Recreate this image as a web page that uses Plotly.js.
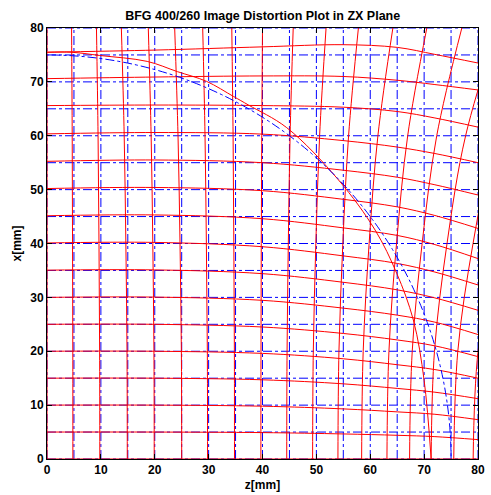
<!DOCTYPE html>
<html><head><meta charset="utf-8">
<script src="https://cdn.plot.ly/plotly-3.0.1.min.js"></script>
<style>html,body{margin:0;padding:0;background:#fff}</style>
</head><body><div id="chart" style="width:491px;height:495px"></div>
<script>
// ideal (undistorted) grid positions, mm
const idealGrid = [0,5,10,15,20,25,30,35,40,45,50,55,60,65,70,75,80];
const idealRadius = 75;

// distorted lines of constant ideal z: z' read at these x' heights
const vertSampleX = [0, 20, 40, 60, 80];
const redVertZ = [
  [0, 0, 0, 0, 0],
  [4.8, 4.79, 4.74, 4.68, 4.56],
  [9.8, 9.77, 9.65, 9.48, 9.18],
  [14.9, 14.85, 14.64, 14.33, 13.8],
  [19.9, 19.85, 19.64, 19.33, 18.8],
  [25.0, 24.94, 24.69, 24.32, 23.7],
  [29.8, 29.76, 29.58, 29.33, 28.9],
  [34.8, 34.78, 34.68, 34.54, 34.3],
  [39.7, 39.72, 39.77, 39.86, 40.0],
  [44.5, 44.56, 44.79, 45.12, 45.7],
  [49.3, 49.43, 49.9, 50.6, 51.8],
  [54.0, 54.19, 54.91, 55.98, 57.8],
  [58.4, 58.69, 59.79, 61.42, 64.2],
  [63.1, 63.47, 64.88, 66.95, 70.5],
  [67.3, 67.79, 69.63, 72.34, 77.0],
  [71.3, 71.92, 74.25, 77.7, 83.6],
  [75.5, 76.25, 79.08, 83.25, 90.4],
  [79.1, 80.01, 83.47, 88.56, 97.3]
];

// distorted lines of constant ideal x: x' read at these z' positions
const horizSampleZ = [0, 20, 40, 55, 65, 72, 80];
const redHorizX = [
  [0, 0, 0, 0, 0, 0, 0],
  [5.0, 5.0, 4.9, 4.65, 4.4, 4.15, 3.6],
  [10.0, 10.0, 9.8, 9.3, 8.75, 8.3, 7.3],
  [15.0, 15.0, 14.7, 13.95, 13.1, 12.4, 11.2],
  [20.0, 20.0, 19.6, 18.6, 17.5, 16.6, 15.0],
  [25.0, 25.0, 24.5, 23.3, 22.1, 21.0, 19.0],
  [30.0, 30.05, 29.45, 28.0, 26.7, 25.4, 23.1],
  [35.05, 35.1, 34.4, 32.8, 31.4, 29.9, 27.6],
  [40.1, 40.2, 39.4, 37.7, 36.3, 34.7, 32.3],
  [45.15, 45.3, 44.6, 42.9, 41.5, 39.8, 37.2],
  [50.2, 50.4, 49.8, 48.2, 46.8, 45.2, 42.8],
  [55.25, 55.5, 55.0, 53.6, 52.3, 50.9, 49.0],
  [60.35, 60.6, 60.3, 59.1, 57.9, 56.7, 55.0],
  [65.6, 65.7, 65.6, 65.3, 64.5, 63.3, 61.6],
  [70.6, 70.9, 71.1, 71.0, 70.3, 69.5, 68.5],
  [75.5, 75.9, 76.5, 76.9, 76.4, 75.1, 73.5]
];

// distorted image of the r = 75 circle
const redCircleZ = [0, 4.5, 9.8, 18.6, 24.2, 29.6, 34.6, 37.4, 44.5, 54.1, 60.9, 64.9, 68.0, 70.0, 71.3];
const redCircleX = [75.5, 75.5, 74.9, 73.8, 71.9, 70.1, 67.3, 65.7, 61.5, 51.8, 42.5, 34.5, 25.8, 14.6, 0];

const axMin = 0, axMax = 80;
const BLUE = 'rgb(0,0,255)', RED = 'rgb(255,0,0)';
const traces = [];

// ideal blue dash-dot grid
const bvx = [], bvy = [], bhx = [], bhy = [];
idealGrid.forEach(g => {
  bvx.push(g, g, null); bvy.push(axMin, axMax, null);
  bhx.push(axMin, axMax, null); bhy.push(g, g, null);
});
traces.push({x: bvx, y: bvy, mode: 'lines', line: {color: BLUE, width: 1, dash: 'dashdot'}, hoverinfo: 'skip'});
traces.push({x: bhx, y: bhy, mode: 'lines', line: {color: BLUE, width: 1, dash: 'dashdot'}, hoverinfo: 'skip'});

// red distorted lines
redVertZ.forEach(row => traces.push({x: row, y: vertSampleX, mode: 'lines', line: {color: RED, width: 1, shape: 'spline'}, hoverinfo: 'skip'}));
redHorizX.forEach(row => traces.push({x: horizSampleZ, y: row, mode: 'lines', line: {color: RED, width: 1, shape: 'spline'}, hoverinfo: 'skip'}));
traces.push({x: redCircleZ, y: redCircleX, mode: 'lines', line: {color: RED, width: 1, shape: 'spline'}, hoverinfo: 'skip'});

const tickFont = {family: 'Liberation Sans, Arial, sans-serif', size: 12, color: '#000', weight: 'bold'};
const axisCommon = {
  range: [axMin, axMax], dtick: 10, tick0: 0, ticks: 'inside', ticklen: 5, tickcolor: '#000',
  showline: true, linecolor: '#000', linewidth: 1, mirror: 'ticks', zeroline: false,
  showgrid: false,
  tickfont: tickFont
};

const layout = {
  width: 491, height: 495,
  margin: {l: 47, r: 13, t: 28, b: 36},
  paper_bgcolor: '#fff', plot_bgcolor: '#fff',
  showlegend: false,
  title: {text: 'BFG 400/260 Image Distortion Plot in ZX Plane', font: {family: 'Liberation Sans, Arial, sans-serif', size: 12.5, color: '#000', weight: 'bold'}, x: 0.535, xanchor: 'center', y: 0.969, yanchor: 'middle', yref: 'container'},
  xaxis: Object.assign({}, axisCommon, {title: {text: 'z[mm]', font: tickFont, standoff: 4}}),
  yaxis: Object.assign({}, axisCommon, {title: {text: 'x[mm]', font: tickFont, standoff: 6}}),
  shapes: [{type: 'circle', xref: 'x', yref: 'y', x0: -idealRadius, x1: idealRadius, y0: -idealRadius, y1: idealRadius, line: {color: BLUE, width: 1, dash: 'dashdot'}}]
};

Plotly.newPlot('chart', traces, layout, {staticPlot: true, displayModeBar: false});
</script>
</body></html>
